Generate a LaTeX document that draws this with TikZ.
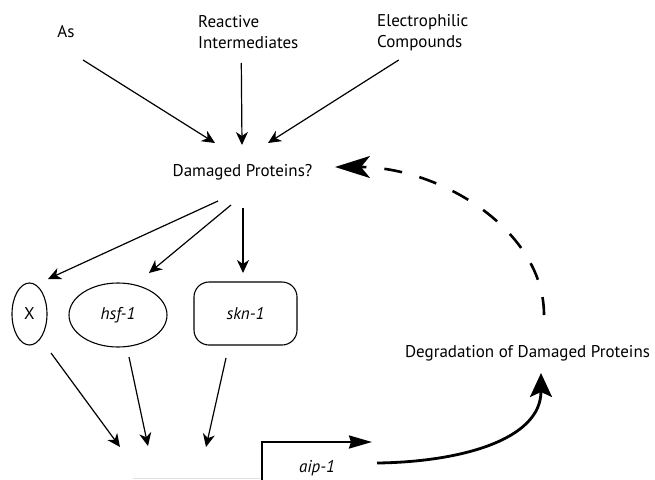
\documentclass[tikz,border=0pt]{standalone}
\usepackage{fontspec}
\setmainfont{PT Sans}
\usetikzlibrary{arrows.meta,shapes.geometric}
\tikzset{
  lbl/.style={inner sep=0pt, font=\fontsize{17}{21}\selectfont, align=left},
  thinarrow/.style={line width=1.2pt, -{Stealth[length=13pt,width=12pt,inset=4pt]}},
  shapebox/.style={draw, line width=1.1pt, inner sep=0pt, font=\fontsize{17}{21}\selectfont},
  dasharrow/.style={line width=2.6pt, dash pattern=on 18pt off 18pt, -{Stealth[length=35pt,width=22pt,inset=9pt]}},
  thickarrow/.style={line width=2.8pt, -{Stealth[length=24pt,width=22pt,inset=5pt]}},
  promarrow/.style={line width=2.3pt, -{Stealth[length=23pt,width=13pt,inset=2pt]}}
}
\begin{document}
\begin{tikzpicture}[x=1pt,y=1pt]
\useasboundingbox (0,0) rectangle (655,-479);
% text nodes
\node[lbl] (as) at (66,-32) {As};
\node[lbl, anchor=west] (ri) at (198,-32.5) {Reactive\\Intermediates};
\node[lbl, anchor=west] (ec) at (377,-32.5) {Electrophilic\\Compounds};
\node[lbl] (dam) at (242.5,-172) {Damaged Proteins?};
\node[lbl] (deg) at (527.5,-353) {Degradation of Damaged Proteins};
\node[lbl] (aip) at (317,-468) {\itshape aip-1};
% shapes
\node[shapebox, ellipse, minimum width=35pt, minimum height=62pt] (x) at (29.5,-314) {X};
\node[shapebox, ellipse, minimum width=98pt, minimum height=64pt] (hsf) at (118,-315) {\itshape hsf-1};
\node[shapebox, rectangle, rounded corners=15pt, minimum width=103pt, minimum height=63pt] (skn) at (245.5,-313.5) {\itshape skn-1};
% free ends below
\coordinate (t1) at (120,-447);
\coordinate (t2) at (148,-446);
\coordinate (t3) at (206,-447);
\coordinate (p0) at (262,-480);
\coordinate (p1) at (372,-442);
% faint cut-off line at bottom
\draw[line width=1pt, black!12] (133,-478.5) -- (260,-478.5);
% inputs
\draw[thinarrow] ([shift={(17,-28)}]as.center) -- ([shift={(-27.5,29)}]dam.center);
\draw[thinarrow] ([shift={(-7,-30.5)}]ri.center) -- ([shift={(-0.5,27)}]dam.center);
\draw[thinarrow] ([shift={(-24,-27.5)}]ec.center) -- ([shift={(25.5,29)}]dam.center);
% to factors
\draw[thinarrow] ([shift={(-24.5,-29)}]dam.center) -- ([shift={(18.5,35)}]x.center);
\draw[thinarrow] ([shift={(-11.5,-33)}]dam.center) -- ([shift={(31,42)}]hsf.center);
\draw[thinarrow] ([shift={(0.5,-36)}]dam.center) -- ([shift={(-2.5,40.5)}]skn.center);
% from factors
\draw[thinarrow] ([shift={(21.5,-39)}]x.center) -- (t1);
\draw[thinarrow] ([shift={(11,-42)}]hsf.center) -- (t2);
\draw[thinarrow] ([shift={(-19.5,-44.5)}]skn.center) -- (t3);
% promoter
\draw[promarrow] (p0) |- (p1);
% aip-1 to degradation
\draw[thickarrow] ([shift={(60,5)}]aip.center) .. controls +(83,1) and +(0,-67) .. ([shift={(13.5,-20)}]deg.center);
% feedback
\draw[dasharrow] ([shift={(16.5,38)}]deg.center) .. controls +(0,85) and +(105,0) .. ([shift={(92.5,5)}]dam.center);
\end{tikzpicture}
\end{document}
